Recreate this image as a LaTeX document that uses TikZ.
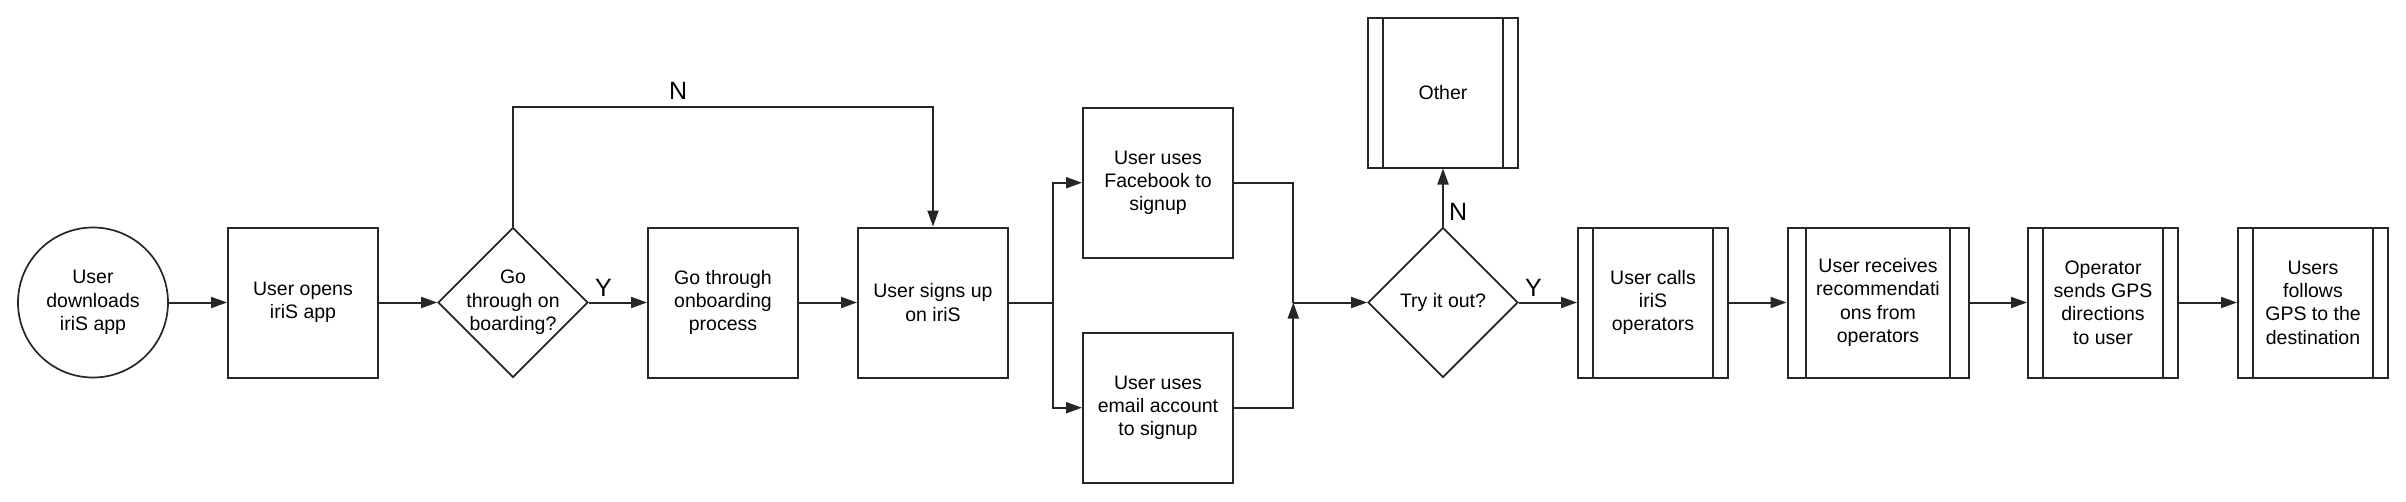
\documentclass[tikz,border=0pt]{standalone}
\usepackage{fontspec}
\setmainfont{Liberation Sans}
\usetikzlibrary{arrows.meta,shapes.geometric,calc}
\begin{document}
\begin{tikzpicture}[x=1pt,y=-1pt,
  every node/.style={font=\fontsize{19.5pt}{23.3pt}\selectfont, text=black},
  lw/.style={line width=2pt, draw=black!85},
  proc/.style={lw, rectangle, minimum width=150pt, minimum height=150pt, inner sep=0pt, align=center},
  subproc/.style={proc, path picture={\draw[line width=2pt, black!85]
      ([xshift=#1]path picture bounding box.north west) -- ([xshift=#1]path picture bounding box.south west)
      ([xshift=-#1]path picture bounding box.north east) -- ([xshift=-#1]path picture bounding box.south east);}},
  subproc/.default=15pt,
  dia/.style={diamond, lw, line width=1.7pt, minimum width=150pt, minimum height=150pt, inner sep=0pt, shape aspect=1},
  arr/.style={lw, -{Triangle[length=16pt,width=11pt]}},
  lbl/.style={font=\fontsize{25pt}{30pt}\selectfont, inner sep=0pt}
]
\useasboundingbox (0,0) rectangle (2406,501);
% nodes
\node[circle, lw, line width=1.7pt, minimum size=150pt, inner sep=0pt, align=center] (c) at (93,302.5) {User\\downloads\\iriS app};
\node[proc] (b1) at (303,302.5) {User opens\\iriS app};
\node[dia] (d1) at (513,302.5) {};
\node[align=center, inner sep=0pt] (d1t) at (d1.center) {Go\\through on\\boarding?};
\node[proc] (b2) at (723,302.5) {Go through\\onboarding\\process};
\node[proc] (b3) at (933,302.5) {User signs up\\on iriS};
\node[proc] (fb) at (1158,182.7) {User uses\\Facebook to\\signup};
\node[proc] (em) at (1158,407.7) {User uses\\email account\\to signup};
\coordinate (sp) at (1052.7,302.5);
\coordinate (jn) at (1293.3,302.5);
\node[dia] (d2) at (1443,302.5) {};
\node[inner sep=0pt] (d2t) at (d2.center) {Try it out?};
\node[subproc] (ot) at (1443,92.5) {Other};
\node[subproc] (s1) at (1653,302.5) {User calls\\iriS\\operators};
\node[subproc=18.5pt, minimum width=181pt] (s2) at (1878,302.5) {User receives\\recommendati\\ons from\\operators};
\node[subproc] (s3) at (2103,302.5) {Operator\\sends GPS\\directions\\to user};
\node[subproc] (s4) at (2313,302.5) {Users\\follows\\GPS to the\\destination};
\coordinate (nl) at ($(d1.north)+(0,-120)$);
\coordinate (nr) at (nl -| b3.north);
% connectors
\draw[arr] (c) -- (b1);
\draw[arr] (b1) -- (d1);
\draw[arr] (d1) -- (b2) node[lbl, pos=0.25, anchor=south, yshift=5pt] (y1) {Y};
\draw[arr] (b2) -- (b3);
\draw[arr] (d1.north) -- (nl) -- node[lbl, pos=0.393, anchor=south, yshift=6pt] (n1) {N} (nr) -- (b3.north);
\draw[lw] (b3) -- (sp);
\draw[arr] (sp) |- (fb.west);
\draw[arr] (sp) |- (em.west);
\draw[lw] (fb.east) -| (jn);
\draw[arr] (em.east) -| (jn);
\draw[arr] (jn) -- (d2);
\draw[arr] (d2) -- (s1) node[lbl, pos=0.25, anchor=south, yshift=5pt] (y2) {Y};
\draw[arr] (d2.north) -- (ot.south) node[lbl, pos=0, anchor=south west, xshift=5pt, yshift=5pt] (n2) {N};
\draw[arr] (s1) -- (s2);
\draw[arr] (s2) -- (s3);
\draw[arr] (s3) -- (s4);
\end{tikzpicture}
\end{document}
